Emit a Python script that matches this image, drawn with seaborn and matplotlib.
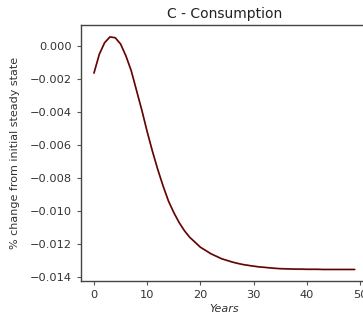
"""Impulse response plot: consumption."""
import matplotlib
matplotlib.use("Agg")
import matplotlib.pyplot as plt
import pandas as pd
import seaborn as sns

# Daten
years = list(range(50))
consumption = [
    -0.00164, -0.00050, 0.00020, 0.00055, 0.00050, 0.00012, -0.00060, -0.00150,
    -0.00270, -0.00390, -0.00520, -0.00640, -0.00750, -0.00850, -0.00940, -0.01010,
    -0.01070, -0.01120, -0.01160, -0.01190, -0.01220, -0.01240, -0.01260, -0.01275,
    -0.01290, -0.01300, -0.01310, -0.01318, -0.01325, -0.01330, -0.01335, -0.01339,
    -0.01342, -0.01345, -0.01348, -0.01350, -0.01351, -0.01352, -0.01353, -0.01353,
    -0.01354, -0.01354, -0.01354, -0.01355, -0.01355, -0.01355, -0.01355, -0.01355,
    -0.01355, -0.01355,
]
title = "C - Consumption"
xlabel = "Years"
ylabel = "% change from initial steady state"

df = pd.DataFrame({"year": years, "value": consumption})

sns.set_style("ticks")
plt.rcParams["font.family"] = ["DejaVu Sans"]

fig = plt.figure(figsize=(3.63, 3.17), dpi=100)
ax = fig.add_axes([0.223, 0.114, 0.79, 0.807])

# rote Linie darunter, dunkle darüber
sns.lineplot(data=df, x="year", y="value", ax=ax, color="#c83030", linewidth=1.3)
sns.lineplot(data=df, x="year", y="value", ax=ax, color="#3a0c0c", linewidth=0.8)

ax.set_xticks([0, 10, 20, 30, 40, 50])
ax.set_yticks([0.000, -0.002, -0.004, -0.006, -0.008, -0.010, -0.012, -0.014])
ax.yaxis.set_major_formatter(
    matplotlib.ticker.FuncFormatter(lambda v, _: f"{v:.3f}".replace("-", "\u2212") if abs(v) > 1e-9 else "0.000")
)
ax.set_ylim(-0.01424, 0.00127)
ax.set_xlim(-2.45, 51.45)
ax.tick_params(labelsize=8.2, length=3, color="#555555", labelcolor="#333333")

for s in ax.spines.values():
    s.set_color("#444444")
    s.set_linewidth(1.0)

ax.set_title(title, fontsize=10, color="#222222", pad=5)
ax.set_xlabel(xlabel, fontsize=8, style="italic", color="#333333", labelpad=3)
ax.set_ylabel(ylabel, fontsize=8, color="#333333", labelpad=7)

fig.savefig("out.png", dpi=100)
plt.close(fig)
